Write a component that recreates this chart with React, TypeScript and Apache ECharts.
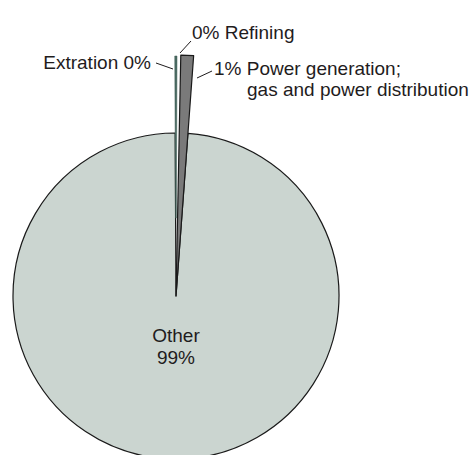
import React, { useEffect, useRef } from "react";
import * as echarts from "echarts";

// Data
const categories = ["Extration", "Refining", "Power generation", "Other"];
const values = [0.15, 0.25, 0.85, 98.75];

// Styles
const sliceColors = ["#4a6a62", "rgba(0,0,0,0)", "#7a7a7a", "#cbd5d0"];
const sliceBorders = ["#3e5c55", "rgba(0,0,0,0)", "#1a1a1a", "#1a1a1a"];
const sliceRadii: [number, number][] = [
  [78, 240],
  [0, 241],
  [0, 241],
  [0, 163],
];
const CENTER: [number, number] = [176, 296];
const FONT = "'Liberation Sans', Arial, Helvetica, sans-serif";
const TEXT = "#1f1c1d";
const FS = 19;

const labelPlaces: Record<string, any> = {
  Extration: { x: 151, y: 62, align: "right", verticalAlign: "middle", line: [[173, 69], [156, 63], [156, 63]] },
  Refining: { x: 192, y: 32, align: "left", verticalAlign: "middle", line: [[180, 53], [191, 41], [191, 41]] },
  "Power generation": { x: 214, y: 58, align: "left", verticalAlign: "top", line: [[197, 78], [212, 71], [212, 71]] },
  Other: { x: 176, y: 346, align: "center", verticalAlign: "middle", line: null },
};

function labelText(name: string, pct: number): string {
  if (name === "Extration") return `${name} ${pct}%`;
  if (name === "Refining") return `${pct}% ${name}`;
  if (name === "Power generation")
    return `{a|${pct}% ${name};}\n{b|gas and power distribution}`;
  return `${name}\n${pct}%`;
}

export default function App() {
  const ref = useRef<HTMLDivElement>(null);
  useEffect(() => {
    if (!ref.current) return;
    const chart = echarts.init(ref.current, undefined, { renderer: "svg" });
    const series = categories.map((cat, si) => ({
      type: "pie",
      center: CENTER,
      radius: sliceRadii[si],
      startAngle: 90.3,
      clockwise: true,
      avoidLabelOverlap: false,
      silent: true,
      z: si === 3 ? 1 : 2 + si,
      emphasis: { disabled: true },
      labelLayout: (params: any) => {
        const name = categories[params.dataIndex];
        const p = labelPlaces[name];
        const out: any = { x: p.x, y: p.y, align: p.align, verticalAlign: p.verticalAlign };
        if (p.line) out.labelLinePoints = p.line;
        return out;
      },
      data: categories.map((name, di) => {
        const visible = di === si;
        return {
          name,
          value: values[di],
          itemStyle: visible
            ? { color: sliceColors[di], borderColor: sliceBorders[di], borderWidth: di === 0 ? 0.5 : 1.2 }
            : { color: "rgba(0,0,0,0)", borderWidth: 0 },
          label: visible
            ? {
                show: true,
                position: di === 3 ? "inside" : "outside",
                formatter: (prm: any) => labelText(name, Math.round(prm.percent)),
                fontFamily: FONT,
                fontSize: FS,
                lineHeight: 22,
                color: TEXT,
                rich: {
                  a: { fontFamily: FONT, fontSize: FS, lineHeight: 21, color: TEXT },
                  b: { fontFamily: FONT, fontSize: FS, lineHeight: 21, color: TEXT, padding: [0, 0, 0, 33] },
                },
              }
            : { show: false },
          labelLine: visible && di !== 3
            ? { show: true, lineStyle: { color: TEXT, width: 1 } }
            : { show: false },
        };
      }),
    }));
    chart.setOption({
      animation: false,
      backgroundColor: "#ffffff",
      series,
    });
    return () => chart.dispose();
  }, []);
  return (
    <div
      ref={ref}
      style={{ position: "fixed", left: 0, top: 0, width: 472, height: 455 }}
    />
  );
}
